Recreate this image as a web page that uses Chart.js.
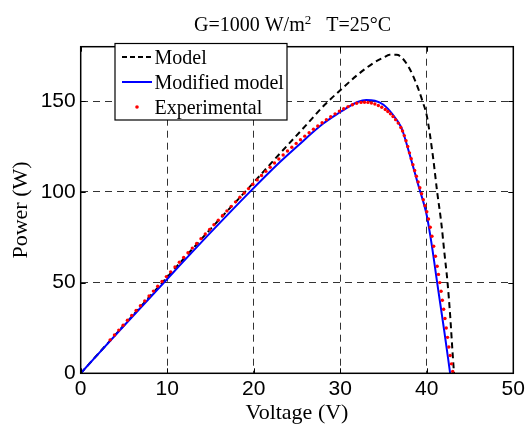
<!DOCTYPE html>
<html>
<head>
<meta charset="utf-8">
<title>PV power curve</title>
<script src="https://cdn.jsdelivr.net/npm/chart.js@4.4.0/dist/chart.umd.min.js"></script>
<style>
    html, body { margin: 0; padding: 0; background: #fff; }
    #wrap { width: 528px; height: 426px; }
</style>
</head>
<body>
<div id="wrap"><canvas id="pvChart" width="528" height="426"></canvas></div>
<script>
// Axis ticks
const xTicks = [0, 10, 20, 30, 40, 50];
const yTicks = [0, 50, 100, 150];

// Model (black dashed)
const modelV = [0, 5, 10, 15, 19, 23, 26, 28.2, 30, 32, 34, 35, 35.7, 36.5, 37, 38, 39, 39.5, 40, 40.7, 41.2, 41.7, 42, 42.4, 42.7, 43, 43.15];
const modelP = [0, 26.5, 53, 79.5, 100, 121, 136.5, 148, 156, 164.5, 171.5, 174, 175.5, 175.5, 174.5, 168, 157, 150, 142, 120, 100, 82, 68, 50, 32, 10, 0];

// Modified model (blue)
const modV = [0, 5, 10, 15, 19.55, 23, 25, 28, 30, 31, 32, 33, 34, 35, 36, 37, 37.25, 38, 39, 40, 40.6, 41.2, 42, 42.7];
const modP = [0, 26.2, 52, 77.5, 100, 116.3, 125, 137.5, 144, 147, 149.5, 150.6, 150.2, 148, 143, 136, 133, 121, 104, 87, 70, 50, 24, 0];

// Experimental (red dots)
const expV = [3.4, 3.9, 4.4, 4.9, 5.4, 5.9, 6.4, 6.9, 7.4, 7.9, 8.4, 8.9, 9.4, 9.9, 10.4, 10.9, 11.4, 11.9, 12.4, 12.9,
    13.4, 13.9, 14.4, 14.9, 15.4, 15.9, 16.4, 16.9, 17.4, 17.9, 18.4, 18.9, 19.4, 19.9, 20.4, 20.9, 21.4, 21.9, 22.4, 22.9,
    23.4, 23.9, 24.4, 24.9, 25.4, 25.9, 26.4, 26.9, 27.4, 27.9, 28.4, 28.9, 29.4, 29.9, 30.4, 30.9, 31.4, 31.9, 32.4, 32.8,
    33.2, 33.6, 34.0, 34.4, 34.8, 35.2, 35.5, 35.8, 36.1, 36.4, 36.7, 37.0, 37.2, 37.4, 37.6, 37.8, 38.0, 38.2, 38.4, 38.6,
    38.8, 39.0, 39.2, 39.4, 39.6, 39.8, 40.0, 40.2, 40.4, 40.6, 40.8, 41.0, 41.2, 41.35, 41.5, 41.65, 41.8, 41.95, 42.1, 42.25,
    42.4, 42.55, 42.7, 42.85, 43.0];
const expP = [18.4, 21.1, 23.8, 26.5, 29.2, 31.9, 34.6, 37.2, 39.9, 42.6, 45.3, 48.0, 50.6, 53.3, 55.9, 58.6, 61.2, 63.8, 66.4, 69.0,
    71.6, 74.2, 76.8, 79.3, 81.9, 84.4, 87.0, 89.5, 92.0, 94.5, 97.0, 99.4, 101.8, 104.2, 106.6, 109.0, 111.3, 113.6, 115.9, 118.1,
    120.3, 122.5, 124.6, 126.7, 128.7, 130.7, 132.6, 134.5, 136.3, 138.1, 139.8, 141.4, 143.0, 144.5, 145.8, 147.0, 148.0, 148.8, 149.3, 149.4,
    149.3, 149.0, 148.4, 147.6, 146.6, 145.4, 144.3, 143.0, 141.5, 139.8, 137.9, 135.5, 133.5, 131.0, 128.2, 125.0, 121.5, 118.3, 115.0, 111.8,
    108.6, 105.5, 102.3, 99.0, 95.7, 92.4, 89.0, 85.0, 80.5, 75.5, 70.0, 64.5, 59.0, 54.5, 50.0, 45.2, 40.3, 35.3, 30.2, 25.0,
    19.8, 14.5, 9.8, 5.2, 1.0];

const seriesLabels = ['Model', 'Modified model', 'Experimental'];

const toPoints = (xs, ys) => xs.map((x, i) => ({ x: x, y: ys[i] }));

const serif = '"Liberation Serif", "Times New Roman", serif';
const sans = '"Liberation Sans", Arial, sans-serif';

/**
 * Box frame, inward ticks, legend box and title
 */
const decorPlugin = {
    id: 'decor',
    afterDraw(chart) {
        const { ctx, chartArea: a, scales } = chart;
        ctx.save();

        // inward tick marks
        ctx.strokeStyle = '#000';
        ctx.lineWidth = 1;
        ctx.setLineDash([]);
        ctx.beginPath();
        xTicks.forEach(v => {
            const px = Math.round(scales.x.getPixelForValue(v)) + 0.5;
            ctx.moveTo(px, a.bottom); ctx.lineTo(px, a.bottom - 5);
            ctx.moveTo(px, a.top); ctx.lineTo(px, a.top + 5);
        });
        yTicks.forEach(v => {
            const py = Math.round(scales.y.getPixelForValue(v)) + 0.5;
            ctx.moveTo(a.left, py); ctx.lineTo(a.left + 5, py);
            ctx.moveTo(a.right, py); ctx.lineTo(a.right - 5, py);
        });
        ctx.stroke();

        // frame
        ctx.lineWidth = 1.5;
        ctx.strokeRect(a.left, a.top, a.right - a.left, a.bottom - a.top);

        // legend
        const lx = 115, ly = 43.5, lw = 172, lh = 76.5;
        ctx.fillStyle = '#fff';
        ctx.fillRect(lx, ly, lw, lh);
        ctx.lineWidth = 1.2;
        ctx.strokeRect(lx, ly, lw, lh);

        const rows = [57, 82, 107];
        ctx.lineWidth = 2;
        ctx.strokeStyle = '#000';
        ctx.setLineDash([5, 3]);
        ctx.beginPath(); ctx.moveTo(122, rows[0]); ctx.lineTo(152, rows[0]); ctx.stroke();
        ctx.setLineDash([]);
        ctx.strokeStyle = '#0000ff';
        ctx.beginPath(); ctx.moveTo(122, rows[1]); ctx.lineTo(152, rows[1]); ctx.stroke();
        ctx.fillStyle = '#ff0000';
        ctx.beginPath(); ctx.arc(137, rows[2], 1.8, 0, Math.PI * 2); ctx.fill();

        ctx.fillStyle = '#000';
        ctx.font = '20px ' + serif;
        ctx.textAlign = 'left';
        ctx.textBaseline = 'alphabetic';
        seriesLabels.forEach((t, i) => ctx.fillText(t, 154.5, rows[i] + 6.5));

        // title with superscript
        const part1 = 'G=1000 W/m', sup = '2', part2 = '   T=25\u00B0C';
        ctx.font = '20px ' + serif;
        const w1 = ctx.measureText(part1).width;
        const w2 = ctx.measureText(part2).width;
        ctx.font = '13px ' + serif;
        const ws = ctx.measureText(sup).width;
        let tx = 292.5 - (w1 + ws + w2) / 2;
        ctx.font = '20px ' + serif;
        ctx.fillText(part1, tx, 30.5);
        tx += w1;
        ctx.font = '13px ' + serif;
        ctx.fillText(sup, tx, 24);
        tx += ws;
        ctx.font = '20px ' + serif;
        ctx.fillText(part2, tx, 30.5);

        ctx.restore();
    }
};

new Chart(document.getElementById('pvChart'), {
    type: 'scatter',
    data: {
        datasets: [
            {
                label: seriesLabels[0],
                data: toPoints(modelV, modelP),
                showLine: true,
                borderColor: '#000',
                borderWidth: 2,
                borderDash: [6, 4],
                pointRadius: 0,
                cubicInterpolationMode: 'monotone',
                order: 2
            },
            {
                label: seriesLabels[1],
                data: toPoints(modV, modP),
                showLine: true,
                borderColor: '#0000ff',
                borderWidth: 2,
                pointRadius: 0,
                cubicInterpolationMode: 'monotone',
                order: 1
            },
            {
                label: seriesLabels[2],
                data: toPoints(expV, expP),
                showLine: false,
                pointRadius: 1.7,
                pointBorderWidth: 0,
                pointBackgroundColor: '#ff0000',
                backgroundColor: '#ff0000',
                order: 0
            }
        ]
    },
    options: {
        responsive: false,
        animation: false,
        devicePixelRatio: 1,
        layout: { padding: { top: 46.7, right: 14.7, left: 0, bottom: 0 } },
        plugins: {
            legend: { display: false },
            title: { display: false },
            tooltip: { enabled: false }
        },
        scales: {
            x: {
                type: 'linear',
                min: 0,
                max: 50,
                afterFit: scale => { scale.height = 52.7; },
                afterBuildTicks: scale => { scale.ticks = xTicks.map(v => ({ value: v })); },
                ticks: {
                    color: '#000',
                    padding: 3,
                    maxRotation: 0,
                    font: { family: sans, size: 21 }
                },
                grid: { color: '#333', lineWidth: 1, drawTicks: false },
                border: { display: false, dash: [7, 5] },
                title: {
                    display: true,
                    text: 'Voltage (V)',
                    color: '#000',
                    padding: { top: 0, bottom: 0 },
                    font: { family: serif, size: 22 }
                }
            },
            y: {
                type: 'linear',
                min: 0,
                max: 180,
                afterFit: scale => { scale.width = 80.7; },
                afterBuildTicks: scale => { scale.ticks = yTicks.map(v => ({ value: v })); },
                ticks: {
                    color: '#000',
                    padding: 5,
                    font: { family: sans, size: 21 }
                },
                grid: { color: '#333', lineWidth: 1, drawTicks: false },
                border: { display: false, dash: [7, 5] },
                title: {
                    display: true,
                    text: 'Power (W)',
                    color: '#000',
                    padding: { top: 8, bottom: 0 },
                    font: { family: serif, size: 22 }
                }
            }
        }
    },
    plugins: [decorPlugin]
});
</script>
</body>
</html>
